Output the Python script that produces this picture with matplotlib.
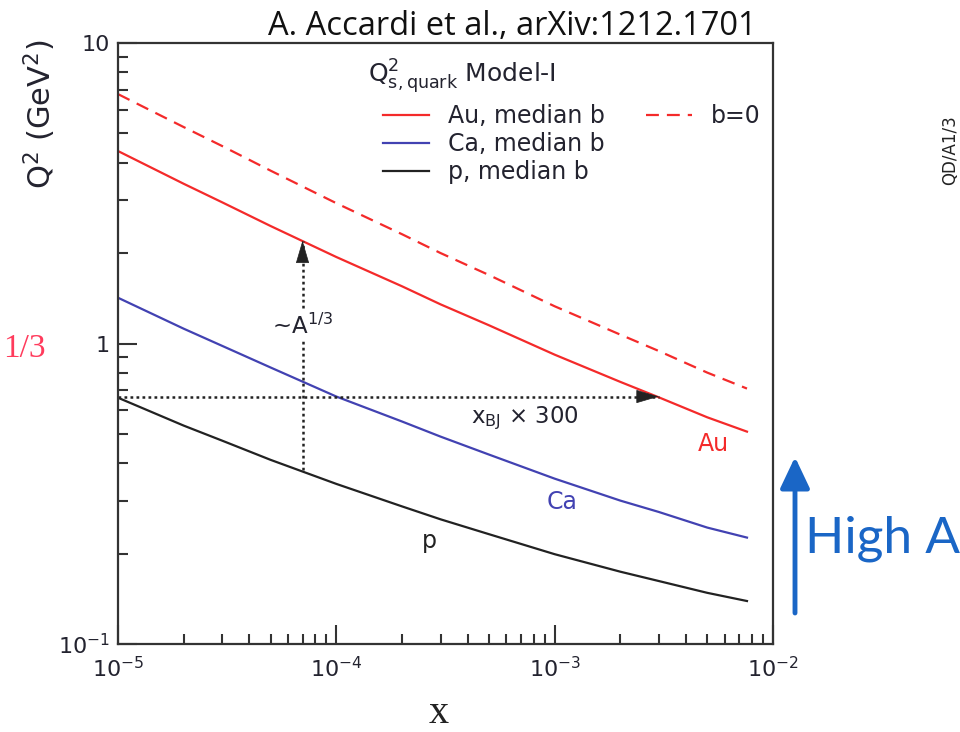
import matplotlib
matplotlib.use('Agg')
import matplotlib.pyplot as plt
from matplotlib.lines import Line2D
from matplotlib.ticker import LogLocator, NullFormatter, FixedLocator, FixedFormatter

plt.rcParams['mathtext.fontset'] = 'dejavusans'
plt.rcParams['font.family'] = ['DejaVu Sans']

# ---- data ----
x_vals = [1e-5, 2e-5, 3e-5, 5e-5, 1e-4, 2e-4, 3e-4, 5e-4, 1e-3, 2e-3, 3e-3, 5e-3, 7.6e-3]
au_median = [4.37, 3.40, 2.95, 2.46, 1.94, 1.55, 1.35, 1.15, 0.918, 0.745, 0.662, 0.568, 0.509]
au_b0 = [6.76, 5.25, 4.54, 3.76, 2.93, 2.31, 2.00, 1.69, 1.33, 1.07, 0.944, 0.80, 0.708]
ca_median = [1.42, 1.12, 0.982, 0.832, 0.666, 0.55, 0.49, 0.427, 0.355, 0.30, 0.275, 0.244, 0.226]
p_median = [0.66, 0.533, 0.475, 0.41, 0.341, 0.287, 0.26, 0.232, 0.199, 0.174, 0.162, 0.148, 0.139]

# annotation arrows
a13_x = 7e-5
a13_from, a13_to = 0.38, 2.2
shift_y = 0.666
shift_from, shift_to = 1e-5, 3e-3

x_ticks = [1e-5, 1e-4, 1e-3, 1e-2]
x_ticklabels = ['$10^{-5}$', '$10^{-4}$', '$10^{-3}$', '$10^{-2}$']
y_ticks = [0.1, 1, 10]
y_ticklabels = ['$10^{-1}$', '1', '10']

RED = '#f42a2a'
BLUE = '#4242b2'
BLACK = '#222222'
TXT = '#23232f'

W, H = 960, 732
fig = plt.figure(figsize=(W / 100, H / 100), dpi=100)
ax = fig.add_axes([118 / W, 1 - 644 / H, (773 - 118) / W, (644 - 43) / H])
ax.set_xscale('log')
ax.set_yscale('log')
ax.set_xlim(1e-5, 1e-2)
ax.set_ylim(0.1, 10)

l_au, = ax.plot(x_vals, au_median, color=RED, lw=1.6, label='Au, median b')
l_ca, = ax.plot(x_vals, ca_median, color=BLUE, lw=1.6, label='Ca, median b')
l_p, = ax.plot(x_vals, p_median, color=BLACK, lw=1.6, label='p, median b')
l_b0, = ax.plot(x_vals, au_b0, color=RED, lw=1.6, dashes=(5.8, 3.6), label='b=0')

# dotted arrows
ax.plot([a13_x, a13_x], [a13_from, a13_to], color=BLACK, lw=1.8, dashes=(1.1, 1.3))
ax.plot([shift_from, shift_to], [shift_y, shift_y], color=BLACK, lw=1.8, dashes=(1.1, 1.3))
ax.annotate('', xy=(a13_x, a13_to), xytext=(0, -15), textcoords='offset points',
            arrowprops=dict(arrowstyle='-|>,head_length=0.75,head_width=0.22', color=BLACK,
                            lw=0.5, mutation_scale=20, shrinkA=0, shrinkB=0))
ax.annotate('', xy=(shift_to, shift_y), xytext=(-15, 0), textcoords='offset points',
            arrowprops=dict(arrowstyle='-|>,head_length=0.75,head_width=0.22', color=BLACK,
                            lw=0.5, mutation_scale=20, shrinkA=0, shrinkB=0))

ax.text(a13_x, 1.08, '~A$^{1/3}$', ha='center', va='baseline', fontsize=16.5, color=TXT,
        bbox=dict(fc='white', ec='none', pad=2), zorder=5)
ax.text(7.3e-4, 0.545, r'x$_{\mathrm{BJ}}$ × 300', ha='center', va='baseline', fontsize=16.5, color=TXT)
ax.text(5.35e-3, 0.44, 'Au', ha='center', va='baseline', fontsize=17, color=RED)
ax.text(1.08e-3, 0.282, 'Ca', ha='center', va='baseline', fontsize=17, color=BLUE)
ax.text(2.68e-4, 0.209, 'p', ha='center', va='baseline', fontsize=17, color=BLACK)

# legend
fig.text(368 / W, 1 - 83 / H, r'$\mathrm{Q}^2_{\mathrm{s,quark}}$ Model-I', fontsize=18,
         va='baseline', ha='left', color=TXT)
blank = Line2D([], [], color='none')
leg = ax.legend([l_au, l_ca, l_p, l_b0, blank, blank],
                ['Au, median b', 'Ca, median b', 'p, median b', 'b=0', '', ''],
                ncol=2, loc='upper left', bbox_to_anchor=(383 / W, 1 - 104 / H),
                bbox_transform=fig.transFigure, frameon=False, fontsize=17,
                handlelength=1.95, handletextpad=0.8, columnspacing=1.75, labelspacing=0.17,
                borderpad=0, borderaxespad=0)
for t in leg.get_texts():
    t.set_color(TXT)

# ticks and spines
ax.xaxis.set_major_locator(FixedLocator(x_ticks))
ax.xaxis.set_major_formatter(FixedFormatter(x_ticklabels))
ax.yaxis.set_major_locator(FixedLocator(y_ticks))
ax.yaxis.set_major_formatter(FixedFormatter(y_ticklabels))
ax.xaxis.set_minor_locator(LogLocator(base=10, subs=range(2, 10), numticks=20))
ax.yaxis.set_minor_locator(LogLocator(base=10, subs=range(2, 10), numticks=20))
ax.xaxis.set_minor_formatter(NullFormatter())
ax.yaxis.set_minor_formatter(NullFormatter())
ax.tick_params(which='both', direction='in', top=False, right=False, width=1.5,
               color='#333333', labelcolor=TXT, labelsize=16)
ax.tick_params(which='major', length=13.5)
ax.tick_params(which='minor', length=7)
ax.tick_params(axis='x', which='major', pad=9)
ax.tick_params(axis='y', which='major', pad=6)
for s in ax.spines.values():
    s.set_linewidth(1.6)
    s.set_color('#333333')

# texts around the plot
fig.text(40 / W, 1 - 114 / H, r'Q$^2$ (GeV$^2$)', rotation=90, fontsize=22,
         ha='center', va='center', color=TXT)
fig.text(268 / W, 1 - 35 / H, 'A. Accardi et al., arXiv:1212.1701', fontsize=23.5,
         family=['Open Sans', 'DejaVu Sans'], va='baseline', color='#111111')
fig.text(46 / W, 1 - 357 / H, '1/3', family=['Liberation Serif', 'DejaVu Serif'], fontsize=24,
         color='#ff3b5c', ha='right', va='baseline')
fig.text(439 / W, 1 - 723 / H, 'x', family=['Liberation Serif', 'DejaVu Serif'], fontsize=29,
         ha='center', va='baseline', color='#222222')
fig.text(959 / W, 1 - 185 / H, 'QD/A1/3', rotation=90, fontsize=12, ha='right', va='bottom',
         color='#222222')
fig.text(805 / W, 1 - 553 / H, 'High A', fontsize=37, family=['Lato', 'DejaVu Sans'],
         color='#1a66c6', va='baseline')
ax.annotate('', xy=(795, H - 457), xycoords='figure pixels', xytext=(795, H - 613),
            textcoords='figure pixels',
            arrowprops=dict(arrowstyle='-|>,head_length=0.95,head_width=0.45', lw=3.5,
                            color='#1a66c6', mutation_scale=20, shrinkA=0, shrinkB=0))

fig.savefig('out.png', dpi=100)
